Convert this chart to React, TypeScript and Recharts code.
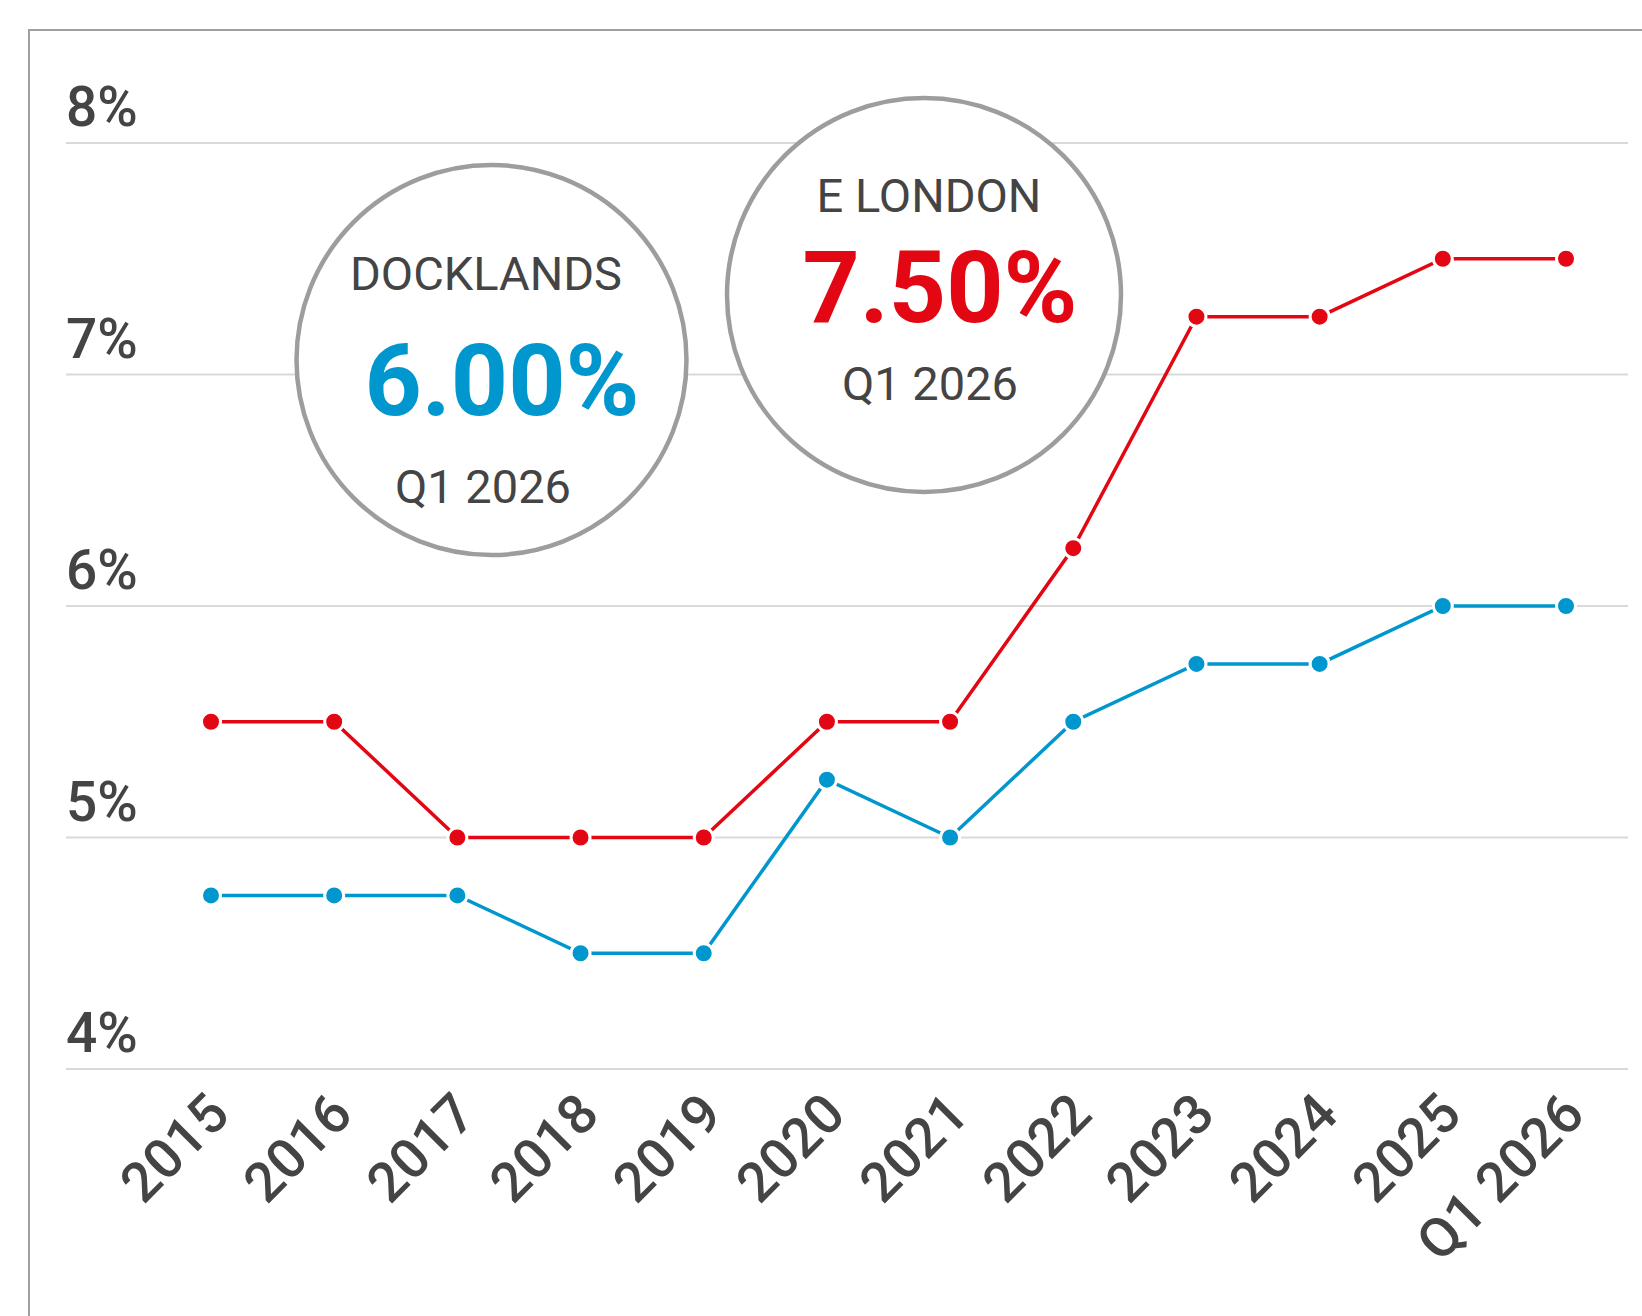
/**
 * App.tsx
 * Yield comparison line chart (Docklands vs E London) using Recharts.
 */
import { CartesianGrid, Line, LineChart, XAxis, YAxis } from 'recharts'

const years = ['2015', '2016', '2017', '2018', '2019', '2020', '2021', '2022', '2023', '2024', '2025', 'Q1 2026']
const eLondon = [5.5, 5.5, 5, 5, 5, 5.5, 5.5, 6.25, 7.25, 7.25, 7.5, 7.5]
const docklands = [4.75, 4.75, 4.75, 4.5, 4.5, 5.25, 5, 5.5, 5.75, 5.75, 6, 6]
const yTicks = [4, 5, 6, 7, 8]

const RED = '#E30613'
const BLUE = '#0096CE'
const TEXT = '#444444'
const FONT = 'Roboto, "Noto Sans", sans-serif'

const data = years.map((year, i) => ({ year, eLondon: eLondon[i], docklands: docklands[i] }))

/**
 * YTick
 * Percent label sitting left-aligned just above its gridline.
 */
function YTick(props: any) {
  const { y, payload } = props
  return (
    <text x={66} y={y - 17} fill={TEXT} fontSize={55} fontWeight={500} fontFamily={FONT} textAnchor="start">
      {`${payload.value}%`}
    </text>
  )
}

/**
 * XTick
 * Rotated year label.
 */
function XTick(props: any) {
  const { x, y, payload } = props
  const ax = x + 21
  const ay = y + 40
  return (
    <text
      x={ax}
      y={ay}
      fill={TEXT}
      fontSize={55}
      fontWeight={500}
      fontFamily={FONT}
      textAnchor="end"
      transform={`rotate(-45 ${ax} ${ay})`}
    >
      {payload.value}
    </text>
  )
}

/**
 * Badge
 * Circled headline figure.
 */
function Badge({ cx, cy, r, title, value, color, titleY, valueX, valueY, subY, titleX, subX }: any) {
  return (
    <g fontFamily={FONT}>
      <circle cx={cx} cy={cy} r={r} fill="#fff" stroke="#9d9d9d" strokeWidth={4.5} />
      <text x={titleX} y={titleY} textAnchor="middle" fontSize={47} fill={TEXT}>
        {title}
      </text>
      <text x={valueX} y={valueY} textAnchor="middle" fontSize={100} fontWeight={700} fill={color}>
        {value}
      </text>
      <text x={subX} y={subY} textAnchor="middle" fontSize={47} fill={TEXT}>
        Q1 2026
      </text>
    </g>
  )
}

export default function App() {
  return (
    <div style={{ position: 'absolute', left: 0, top: 0, width: 1642, height: 1316, background: '#fff', overflow: 'hidden' }}>
      <div
        style={{
          position: 'absolute',
          left: 28,
          top: 29,
          width: 1642,
          height: 1316,
          borderLeft: '2px solid #a0a0a0',
          borderTop: '2px solid #a0a0a0',
        }}
      />
      <div style={{ position: 'absolute', left: 0, top: 0 }}>
        <LineChart width={1642} height={1316} data={data} margin={{ top: 143, right: 14, bottom: 207, left: 66 }}>
          <CartesianGrid vertical={false} stroke="#d9d9d9" strokeWidth={2} />
          <XAxis
            dataKey="year"
            axisLine={false}
            tickLine={false}
            interval={0}
            height={40}
            padding={{ left: 145, right: 62 }}
            tick={<XTick />}
          />
          <YAxis
            domain={[4, 8]}
            ticks={yTicks}
            mirror
            axisLine={false}
            tickLine={false}
            tick={<YTick />}
          />
          <Line
            dataKey="docklands"
            stroke={BLUE}
            strokeWidth={3.5}
            dot={{ r: 9.5, fill: BLUE, stroke: '#fff', strokeWidth: 3 }}
            isAnimationActive={false}
          />
          <Line
            dataKey="eLondon"
            stroke={RED}
            strokeWidth={3.5}
            dot={{ r: 9.5, fill: RED, stroke: '#fff', strokeWidth: 3 }}
            isAnimationActive={false}
          />
        </LineChart>
      </div>
      <svg width={1642} height={1316} style={{ position: 'absolute', left: 0, top: 0, pointerEvents: 'none' }}>
        <Badge
          cx={491.5}
          cy={360}
          r={195}
          title="DOCKLANDS"
          titleX={486}
          titleY={290}
          value="6.00%"
          valueX={502}
          valueY={415}
          subX={483}
          subY={503}
          color={BLUE}
        />
        <Badge
          cx={924}
          cy={295}
          r={197}
          title="E LONDON"
          titleX={929}
          titleY={212}
          value="7.50%"
          valueX={940}
          valueY={322}
          subX={930}
          subY={400}
          color={RED}
        />
      </svg>
    </div>
  )
}
